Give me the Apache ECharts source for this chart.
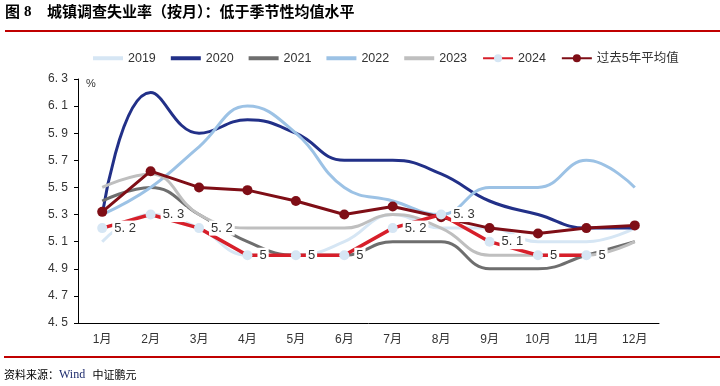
<!DOCTYPE html>
<html>
<head>
<meta charset="utf-8">
<script src="https://cdn.jsdelivr.net/npm/echarts@6/dist/echarts.min.js"></script>
<style>
html,body{margin:0;padding:0;background:#fff;}
#chart{width:720px;height:386px;}
</style>
</head>
<body>
<div id="chart"></div>
<script>
var months = ['1月','2月','3月','4月','5月','6月','7月','8月','9月','10月','11月','12月'];
var yTicks = [4.5,4.7,4.9,5.1,5.3,5.5,5.7,5.9,6.1,6.3];
var s2019 = [5.1,5.3,5.2,5.0,5.0,5.1,5.3,5.2,5.2,5.1,5.1,5.2];
var s2020 = [5.3,6.2,5.9,6.0,5.9,5.7,5.7,5.6,5.4,5.3,5.2,5.2];
var s2021 = [5.4,5.5,5.3,5.1,5.0,5.0,5.1,5.1,4.9,4.9,5.0,5.1];
var s2022 = [5.3,5.5,5.8,6.1,5.9,5.5,5.4,5.3,5.5,5.5,5.7,5.5];
var s2023 = [5.5,5.6,5.3,5.2,5.2,5.2,5.3,5.2,5.0,5.0,5.0,5.1];
var s2024 = [5.2,5.3,5.2,5.0,5.0,5.0,5.2,5.3,5.1,5.0,5.0];
var sAvg  = [5.32,5.62,5.5,5.48,5.4,5.3,5.36,5.28,5.2,5.16,5.2,5.22];

var font = 'Arial, "Liberation Sans", "Noto Sans CJK SC", sans-serif';
var chart = echarts.init(document.getElementById('chart'));
var barIcon = 'path://M0 0H30V4H0Z';

function smoothLine(name, data, color) {
  return {
    name: name, type: 'line', data: data, smooth: 0.45,
    symbol: 'none', lineStyle: {color: color, width: 3}, itemStyle: {color: color}
  };
}

chart.setOption({
  animation: false,
  textStyle: {fontFamily: font},
  grid: {left: 78, right: 61, top: 79, bottom: 63},
  legend: {
    left: 88, top: 47, itemWidth: 30, itemHeight: 10, itemGap: 15,
    textStyle: {fontSize: 12.5, color: '#333', fontFamily: font},
    data: [
      {name: '2019', icon: barIcon},
      {name: '2020', icon: barIcon},
      {name: '2021', icon: barIcon},
      {name: '2022', icon: barIcon},
      {name: '2023', icon: barIcon},
      {name: '2024'},
      {name: '过去5年平均值'}
    ]
  },
  xAxis: {
    type: 'category', data: months, boundaryGap: true,
    axisLine: {lineStyle: {color: '#000', width: 1}},
    axisTick: {alignWithLabel: true, inside: true, length: 4, lineStyle: {color: '#000'}},
    axisLabel: {color: '#333', fontSize: 12, margin: 11}
  },
  yAxis: {
    type: 'value', min: 4.5, max: 6.3, interval: 0.1,
    splitLine: {show: false},
    axisLine: {show: true, lineStyle: {color: '#000', width: 1}},
    axisTick: {show: true, length: 4, lineStyle: {color: '#000'}, customValues: yTicks},
    axisLabel: {color: '#333', fontSize: 12, margin: 10, customValues: yTicks,
      formatter: function (v) { return v.toFixed(1).replace('.', '. '); }}
  },
  series: [
    smoothLine('2019', s2019, '#d6e6f4'),
    smoothLine('2020', s2020, '#223088'),
    smoothLine('2021', s2021, '#6e6e6e'),
    smoothLine('2022', s2022, '#9cc2e5'),
    smoothLine('2023', s2023, '#bfbfbf'),
    {
      name: '2024', type: 'line', data: s2024, smooth: false,
      symbol: 'circle', symbolSize: 10,
      itemStyle: {color: '#d6e6f4'},
      lineStyle: {color: '#d71f2a', width: 3.5},
      label: {
        show: true, position: 'right', distance: 5, fontSize: 13, color: '#333',
        backgroundColor: '#fff', padding: [1, 2],
        formatter: function (p) { return String(p.value).replace('.', '. '); }
      },
      z: 5
    },
    {
      name: '过去5年平均值', type: 'line', data: sAvg, smooth: false,
      symbol: 'circle', symbolSize: 10,
      itemStyle: {color: '#7f0e16'},
      lineStyle: {color: '#7f0e16', width: 3},
      z: 4
    }
  ],
  graphic: [
    {type: 'text', left: 5, top: 4, style: {text: '图', font: 'bold 15px "Noto Sans CJK SC", sans-serif', fill: '#000'}},
    {type: 'text', left: 24, top: 5, style: {text: '8', font: 'bold 15px "Liberation Serif", serif', fill: '#000'}},
    {type: 'text', left: 47, top: 4, style: {text: '城镇调查失业率（按月）：低于季节性均值水平', font: 'bold 15px "Noto Sans CJK SC", sans-serif', fill: '#000'}},
    {type: 'rect', shape: {x: 5, y: 30, width: 715, height: 2}, style: {fill: '#c00000'}},
    {type: 'rect', shape: {x: 4, y: 356, width: 716, height: 2}, style: {fill: '#c00000'}},
    {type: 'text', left: 86, top: 78, style: {text: '%', font: '11px Arial, "Liberation Sans", sans-serif', fill: '#333'}},
    {type: 'text', left: 4, top: 369, style: {
      text: '{a|资料来源：}{b|Wind}{a|   中证鹏元}',
      rich: {
        a: {font: '11px "Noto Sans CJK SC", sans-serif', fill: '#000'},
        b: {font: '12px "Liberation Serif", serif', fill: '#1f2d6e'}
      }
    }}
  ]
});
</script>
</body>
</html>
